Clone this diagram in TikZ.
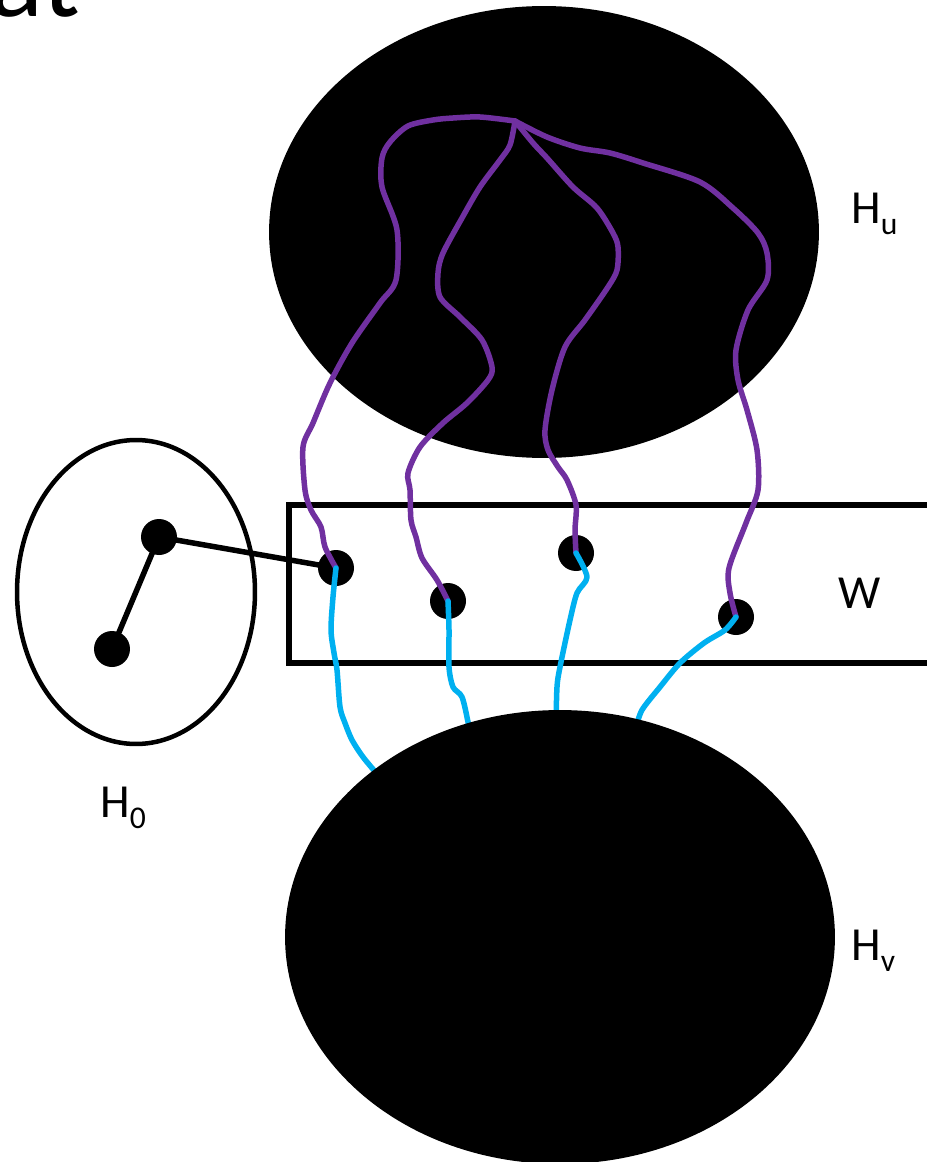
\documentclass[tikz,border=0pt]{standalone}
\usepackage{fontspec}
\setmainfont{Carlito}
\usetikzlibrary{positioning}
\definecolor{pathpurple}{RGB}{112, 48, 160}
\definecolor{pathcyan}{RGB}{0, 176, 240}
\newcommand{\hsub}[1]{H\raisebox{-0.23cm}{\fontsize{18}{18}\selectfont #1}}

\begin{document}
\begin{tikzpicture}[x=0.02cm, y=-0.02cm,
    vdot/.style={circle, fill=black, inner sep=0pt, minimum size=0.72cm},
    lab/.style={anchor=base west, inner sep=0pt, font=\fontsize{27}{30}\selectfont},
    purplepath/.style={line width=0.11cm, pathpurple, line cap=round, line join=round},
    cyanpath/.style={line width=0.11cm, pathcyan, line cap=round, line join=round}]

\useasboundingbox (0,0) rectangle (926,1162);

% === Titulo (cortado) ===
\node[anchor=base east, inner sep=0pt, font=\fontsize{64}{64}\selectfont] (title) at (80,17) {at};

% === Componentes ===
\fill[black] (544,232) ellipse [x radius=5.5cm, y radius=4.52cm];
\draw[line width=0.12cm] (289,505) rectangle (940,663);
\draw[line width=0.09cm] (136,592) ellipse [x radius=2.38cm, y radius=3.04cm];

% === Vertices ===
\node[vdot] (h1) at (159,537) {};
\node[vdot] (h2) at (112,649) {};
\node[vdot] (w1) at (336,568) {};
\node[vdot] (w2) at (448,601) {};
\node[vdot] (w3) at (576,553) {};
\node[vdot] (w4) at (736,617) {};
\coordinate (root) at (515,121);

\draw[line width=0.11cm] (h2.center) -- (h1.center) -- (w1.center);

% === Caminos en H_u ===
\draw[purplepath] plot[smooth, tension=0.5] coordinates {(root) (480,117) (453,118) (433,120) (408,126)
    (390,142) (382,158) (382,187) (397,230) (396,280) (380,303) (352,343) (330,383) (313,423)
    (303,447) (305,490) (311,510) (321,527) (325,547) (w1.center)};
\draw[purplepath] plot[smooth, tension=0.5] coordinates {(root) (510,145) (500,160) (480,187) (462,218)
    (443,253) (438,273) (440,297) (460,317) (482,340) (492,367) (488,380) (467,403) (443,423)
    (420,447) (408,473) (410,490) (411,520) (416,537) (422,558) (437,580) (w2.center)};
\draw[purplepath] plot[smooth, tension=0.5] coordinates {(root) (533,143) (547,158) (573,187) (597,208)
    (613,233) (618,247) (617,270) (608,287) (585,320) (565,347) (552,390) (545,430) (548,450)
    (558,467) (567,480) (576,505) (575,530) (w3.center)};
\draw[purplepath] plot[smooth, tension=0.5] coordinates {(root) (547,137) (580,148) (610,153) (643,163)
    (700,182) (733,208) (758,233) (767,253) (767,280) (748,310) (736,350) (738,380) (747,410)
    (757,450) (758,490) (746,523) (729,568) (730,593) (w4.center)};

% === Caminos hacia H_v ===
\draw[cyanpath] plot[smooth, tension=0.5] coordinates {(w1.center) (333,597) (331,630) (334,653)
    (337,670) (340,707) (345,723) (352,740) (363,757) (378,775)};
\draw[cyanpath] plot[smooth, tension=0.5] coordinates {(w2.center) (449,630) (449,667) (453,687)
    (462,697) (468,722) (471,740)};
\draw[cyanpath] plot[smooth, tension=0.5] coordinates {(w3.center) (587,577) (577,593) (570,620)
    (560,667) (557,687) (556,725)};
\draw[cyanpath] plot[smooth, tension=0.5] coordinates {(w4.center) (725,630) (704,643) (680,663)
    (660,687) (642,710) (636,728)};

\fill[black] (560,937) ellipse [x radius=5.5cm, y radius=4.54cm];

% === Etiquetas ===
\node[lab] (hu) at (851,223) {\hsub{u}};
\node[lab] (hv) at (851,960) {\hsub{v}};
\node[lab] (hzero) at (100,817) {\hsub{0}};
\node[lab] (wlab) at (838,608) {W};

\end{tikzpicture}
\end{document}
